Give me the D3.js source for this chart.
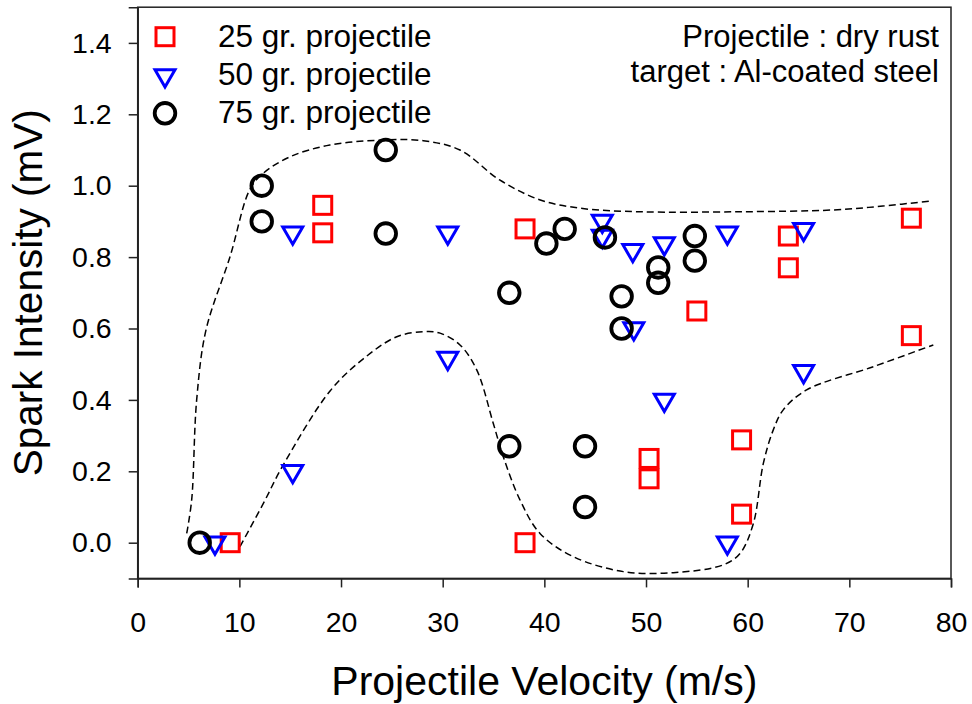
<!DOCTYPE html>
<html>
<head>
<meta charset="utf-8">
<script src="https://cdn.jsdelivr.net/npm/d3@7"></script>
<style>
  body { margin: 0; background: #fff; }
  svg text { font-family: "Liberation Sans", Arial, sans-serif; fill: #000; }
</style>
</head>
<body>
<svg id="chart" width="972" height="704"></svg>
<script>
// data
var xTicks = [0, 10, 20, 30, 40, 50, 60, 70, 80];
var yTicks = [0.0, 0.2, 0.4, 0.6, 0.8, 1.0, 1.2, 1.4];

var seriesNames = ["25 gr. projectile", "50 gr. projectile", "75 gr. projectile"];

var gr25 = [
  [9.1, 0.0], [18.2, 0.945], [18.2, 0.868], [38.1, 0.879], [38.1, 0.0],
  [50.3, 0.236], [50.3, 0.179], [55.0, 0.649], [59.4, 0.288], [59.4, 0.08],
  [64.0, 0.859], [64.0, 0.77], [76.1, 0.909], [76.1, 0.58]
];
var gr50 = [
  [7.6, 0.0], [15.25, 0.2], [15.25, 0.868], [30.5, 0.517], [30.5, 0.868],
  [45.7, 0.901], [45.7, 0.859], [48.7, 0.819], [48.8, 0.6], [51.8, 0.838],
  [51.8, 0.4], [58.0, 0.868], [58.0, 0.0], [65.5, 0.878], [65.5, 0.48]
];
var gr75 = [
  [6.1, 0.0], [12.2, 1.0], [12.2, 0.9], [24.4, 1.1], [24.4, 0.866],
  [36.55, 0.7], [36.55, 0.27], [40.2, 0.838], [42.0, 0.879], [45.96, 0.855],
  [44.0, 0.27], [44.0, 0.1], [47.6, 0.69], [47.6, 0.6], [51.2, 0.771],
  [51.2, 0.728], [54.8, 0.859], [54.8, 0.79]
];

// dashed envelope, upper and lower
var upperEnv = [
  [4.82, 0.026], [5.31, 0.12], [5.8, 0.4], [6.72, 0.596],
  [9.08, 0.801], [11.04, 0.99], [12.36, 1.035], [14.98, 1.081], [18.9, 1.114],
  [24.16, 1.128], [28.1, 1.126], [31.7, 1.1], [35.6, 1.016], [39.6, 0.96],
  [43.5, 0.937], [49.4, 0.927], [59.2, 0.927], [68.4, 0.932], [73.3, 0.943],
  [77.9, 0.957]
];
var lowerEnv = [
  [10.06, -0.011], [12.36, 0.11], [14.32, 0.218], [18.92, 0.425], [22.19, 0.515],
  [25.48, 0.577], [28.1, 0.591], [29.74, 0.587], [31.7, 0.554], [33.35, 0.484],
  [34.98, 0.334], [35.96, 0.241], [37.6, 0.12], [39.57, 0.026], [42.85, -0.039],
  [47.77, -0.081], [52.69, -0.084], [57.6, -0.062], [59.25, -0.03], [60.56, 0.054],
  [61.54, 0.222], [62.52, 0.316], [63.5, 0.372], [65.8, 0.428], [72.36, 0.493],
  [78.26, 0.554]
];

var notes = ["Projectile : dry rust", "target : Al-coated steel"];

var svg = d3.select("#chart");
var plotL = 137.7, plotR = 951, plotT = 7.2, plotB = 578.4;

var x = d3.scaleLinear().domain([0, 80]).range([plotL, plotR]);
var y = d3.scaleLinear().domain([-0.1, 1.5]).range([plotB, plotT]);

// frame
svg.append("rect").attr("x", plotL).attr("y", plotT)
  .attr("width", plotR - plotL).attr("height", plotB - plotT)
  .attr("fill", "none").attr("stroke", "#222").attr("stroke-width", 1.5);

// axes
var xAxis = svg.append("g").attr("transform", "translate(0," + plotB + ")")
  .call(d3.axisBottom(x).tickValues(xTicks).tickSize(9).tickPadding(24).tickFormat(d3.format("d")));
var yAxis = svg.append("g").attr("transform", "translate(" + plotL + ",0)")
  .call(d3.axisLeft(y).tickValues(yTicks).tickSize(9).tickPadding(17).tickFormat(d3.format(".1f")));

[xAxis, yAxis].forEach(function(g){
  g.select(".domain").attr("stroke", "#222").attr("stroke-width", 1.5);
  g.selectAll(".tick line").attr("stroke", "#222").attr("stroke-width", 1.5);
  g.selectAll(".tick text").attr("font-size", 28.5).attr("font-family", "Liberation Sans, Arial, sans-serif").attr("fill", "#000");
});

// axis titles
svg.append("text").attr("x", (plotL + plotR) / 2).attr("y", 695)
  .attr("text-anchor", "middle").attr("font-size", 41)
  .text("Projectile Velocity (m/s)");
svg.append("text").attr("transform", "translate(42," + ((plotT + plotB) / 2) + ") rotate(-90)")
  .attr("text-anchor", "middle").attr("font-size", 40.5)
  .text("Spark Intensity (mV)");

// dashed curves
var line = d3.line().x(function(d){ return x(d[0]); }).y(function(d){ return y(d[1]); })
  .curve(d3.curveCatmullRom.alpha(0.5));
[upperEnv, lowerEnv].forEach(function(c){
  svg.append("path").attr("d", line(c)).attr("fill", "none")
    .attr("stroke", "#000").attr("stroke-width", 1.5).attr("stroke-dasharray", "7,4");
});

// markers
var sq = 18, triSide = 20, triH = triSide * Math.sqrt(3) / 2, circR = 10.3;
function drawSquare(g, cx, cy) {
  g.append("rect").attr("x", cx - sq / 2).attr("y", cy - sq / 2)
    .attr("width", sq).attr("height", sq)
    .attr("fill", "none").attr("stroke", "#ff0000").attr("stroke-width", 3);
}
function drawTri(g, cx, cy) {
  var p = [[cx - triSide / 2, cy - triH / 3], [cx + triSide / 2, cy - triH / 3], [cx, cy + 2 * triH / 3]];
  g.append("polygon").attr("points", p.map(function(q){ return q.join(","); }).join(" "))
    .attr("fill", "none").attr("stroke", "#0000ff").attr("stroke-width", 3).attr("stroke-linejoin", "miter");
}
function drawCirc(g, cx, cy) {
  g.append("circle").attr("cx", cx).attr("cy", cy).attr("r", circR)
    .attr("fill", "none").attr("stroke", "#000").attr("stroke-width", 3.8);
}

var marks = svg.append("g");
gr25.forEach(function(d){ drawSquare(marks, x(d[0]), y(d[1])); });
gr50.forEach(function(d){ drawTri(marks, x(d[0]), y(d[1])); });
gr75.forEach(function(d){ drawCirc(marks, x(d[0]), y(d[1])); });

// legend
var leg = svg.append("g");
var drawers = [drawSquare, drawTri, drawCirc];
var legY = [36.7, 75.4, 113.3];
var legBase = [47, 85, 123];
seriesNames.forEach(function(n, i){
  drawers[i](leg, 165, legY[i]);
  leg.append("text").attr("x", 218).attr("y", legBase[i]).attr("font-size", 31.5).text(n);
});

// annotation
notes.forEach(function(t, i){
  svg.append("text").attr("x", 939).attr("y", 47 + i * 35)
    .attr("text-anchor", "end").attr("font-size", 31).text(t);
});
</script>
</body>
</html>
